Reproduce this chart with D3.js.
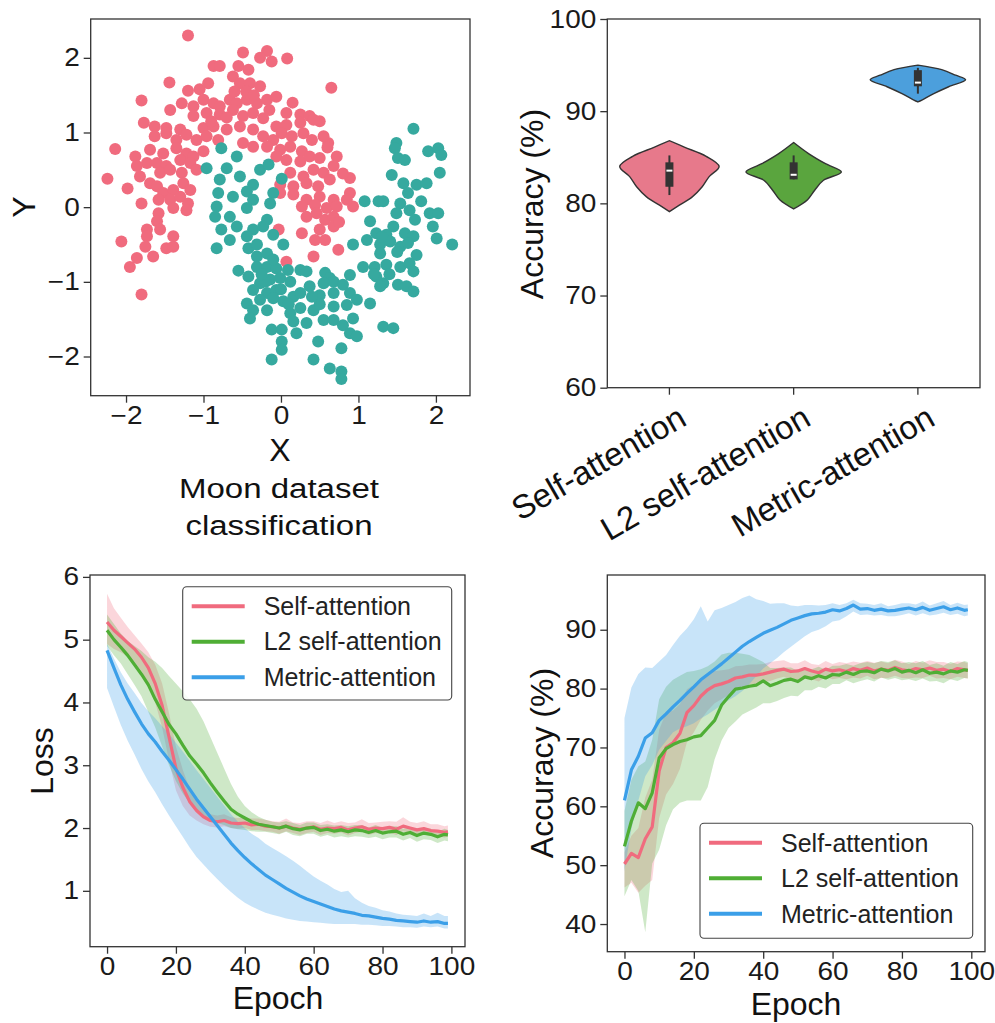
<!DOCTYPE html>
<html>
<head>
<meta charset="utf-8">
<script src="https://cdn.jsdelivr.net/npm/d3@7"></script>
<style>
	body { margin: 0; background: #fff; }
	svg { font-family: "Liberation Sans", Arial, sans-serif; }
</style>
</head>
<body>
<svg id="fig" width="995" height="1023"></svg>
<script>

// ---- moon dataset ----
var moonPink = [
	[-1.20,2.30],[-0.49,2.07],[-0.18,2.09],[-0.27,2.00],[-0.12,1.95],[0.08,1.99],[-0.87,1.89],[-0.79,1.89],[-0.55,1.89],[-0.42,1.84],
	[-1.44,1.67],[-1.20,1.56],[-1.05,1.58],[-0.94,1.66],[-0.62,1.75],[-0.53,1.66],[-0.40,1.66],[-0.27,1.62],[0.65,1.60],[-1.80,1.43],
	[-1.43,1.30],[-1.28,1.39],[-1.13,1.35],[-1.00,1.44],[-0.87,1.39],[-0.79,1.35],[-0.66,1.44],[-0.57,1.39],[-0.44,1.44],[-0.31,1.39],[-0.18,1.44],[-0.06,1.48],
	[-1.13,1.22],[-0.96,1.26],[-0.79,1.24],[-0.62,1.30],[-0.49,1.22],[-0.36,1.26],[-0.23,1.19],[0.07,1.26],[0.25,1.24],[0.37,1.22],[0.50,1.15],
	[-1.77,1.13],[-1.63,1.08],[-1.48,1.06],[-1.30,1.04],[-1.00,1.06],[-0.87,1.08],[-0.70,1.04],[-0.53,1.08],[-0.36,1.04],[-0.06,1.08],[0.07,1.10],[0.25,1.13],[0.42,1.17],
	[-1.63,0.95],[-1.48,0.99],[-1.35,0.90],[-1.22,0.97],[-1.09,0.90],[-0.96,0.95],[-0.81,0.90],[-0.23,0.95],[-0.10,0.90],[0.01,0.99],[0.14,0.95],[0.29,0.99],[0.40,0.90],
	[-2.14,0.78],[-1.69,0.77],[-1.52,0.72],[-1.35,0.79],[-1.22,0.72],[-1.13,0.68],[-0.49,0.86],[-0.36,0.81],[-0.18,0.81],[-0.01,0.77],[0.12,0.81],[0.27,0.75],[0.61,0.86],
	[-1.88,0.68],[-1.73,0.59],[-1.60,0.59],[-1.48,0.55],[-1.30,0.63],[-1.17,0.59],[-0.06,0.68],[0.07,0.63],[0.25,0.61],[0.37,0.68],[0.50,0.66],[0.72,0.68],
	[-1.86,0.55],[-1.82,0.41],[-1.69,0.32],[-1.56,0.46],[-1.43,0.50],[-1.28,0.46],[-1.09,0.50],[0.12,0.46],[0.29,0.41],[0.42,0.50],[0.55,0.46],[0.68,0.55],
	[-2.24,0.38],[-1.60,0.28],[-1.52,0.19],[-1.39,0.23],[-1.26,0.32],[-1.17,0.23],[-0.01,0.30],[0.16,0.28],[0.33,0.32],[0.48,0.28],[0.63,0.37],[0.89,0.39],
	[-1.98,0.25],[-1.58,0.10],[-1.43,0.10],[-1.30,0.14],[-1.20,0.05],[-0.01,0.19],[0.16,0.17],[0.33,0.10],[0.50,0.14],[0.68,0.10],[0.89,0.19],
	[-1.80,0.05],[-1.58,-0.08],[-1.39,-0.01],[-1.22,-0.04],[0.27,0.01],[0.44,0.03],[0.59,-0.01],[0.72,0.01],[0.93,0.01],
	[-1.60,-0.19],[-1.56,-0.30],[-1.73,-0.30],[-1.73,-0.39],[0.33,-0.13],[0.46,-0.08],[0.57,-0.17],[0.68,-0.13],
	[-2.06,-0.46],[-1.39,-0.39],[-1.48,-0.55],[-1.39,-0.53],[0.27,-0.35],[0.50,-0.30],[0.68,-0.26],[-0.03,-0.30],
	[-1.75,-0.53],[-1.65,-0.66],[0.44,-0.44],[0.57,-0.44],[0.74,-0.57],[0.42,-0.66],[0.07,-0.73],[-1.86,-0.68],[-1.95,-0.80],[-1.80,-1.17],
	[-0.45,1.55],[-0.35,1.50],[-0.60,1.55],[-0.15,1.30],[-0.70,1.20],[-0.90,1.15],[0.15,1.40],[0.55,0.95],[0.60,0.80],[0.80,0.45],[0.85,0.10],[0.75,-0.20],[-1.00,0.75]
];
var moonTeal = [
	[1.71,1.05],[1.49,0.86],[1.47,0.79],[1.90,0.75],[2.03,0.79],[2.07,0.70],[-0.77,0.79],[-0.57,0.68],[1.51,0.66],[1.60,0.63],
	[-0.96,0.52],[-0.70,0.52],[-0.53,0.41],[-0.27,0.50],[-0.16,0.57],[1.43,0.43],[2.05,0.46],[-0.79,0.37],[0.01,0.38],[-0.36,0.30],[-0.44,0.21],
	[1.58,0.32],[1.75,0.30],[1.88,0.32],[-0.81,0.19],[-0.62,0.14],[-0.36,0.10],[-0.10,0.19],[1.64,0.19],[1.08,0.08],[1.26,0.08],[1.32,0.08],[1.54,0.05],[1.81,0.08],
	[-0.83,0.01],[-0.44,-0.01],[-0.14,0.05],[1.49,-0.08],[1.66,-0.04],[1.92,-0.08],[2.03,-0.08],[-0.85,-0.13],[-0.66,-0.13],[-0.18,-0.17],
	[1.15,-0.19],[1.45,-0.26],[1.73,-0.17],[1.96,-0.26],[-0.77,-0.30],[-0.57,-0.26],[-0.36,-0.30],[-0.23,-0.26],
	[1.23,-0.35],[1.36,-0.37],[1.60,-0.35],[1.71,-0.39],[2.01,-0.42],[2.21,-0.50],[-0.66,-0.44],[-0.44,-0.39],[-0.10,-0.37],[0.03,-0.50],
	[0.93,-0.50],[1.11,-0.44],[1.28,-0.50],[1.41,-0.46],[1.54,-0.53],[1.64,-0.48],[-0.83,-0.55],[-0.42,-0.55],[-0.31,-0.50],[1.28,-0.62],[1.75,-0.64],
	[-0.31,-0.66],[-0.18,-0.62],[1.06,-0.80],[1.21,-0.80],[1.36,-0.77],[1.54,-0.80],[1.66,-0.75],[-0.31,-0.80],[-0.18,-0.80],[-0.06,-0.82],[-0.55,-0.85],
	[0.09,-0.84],[0.25,-0.84],[0.33,-0.86],[0.57,-0.88],[0.63,-0.95],[0.89,-0.91],[1.23,-0.93],[1.32,-1.02],[1.71,-0.86],
	[-0.42,-0.93],[-0.27,-1.02],[-0.14,-0.97],[-0.01,-0.95],[0.12,-1.00],[0.37,-1.06],[0.55,-1.02],[0.68,-1.00],[0.80,-1.04],
	[1.28,-1.06],[1.51,-1.04],[1.62,-1.06],[1.71,-1.13],[-0.36,-1.11],[-0.18,-1.15],[-0.06,-1.11],[-0.27,-1.24],[-0.10,-1.22],[0.03,-1.26],[0.16,-1.20],
	[0.25,-1.15],[0.50,-1.18],[0.68,-1.15],[0.89,-1.15],[-0.44,-1.29],[-0.36,-1.38],[-0.18,-1.38],[0.25,-1.35],[0.42,-1.38],[0.68,-1.33],[0.85,-1.31],[0.98,-1.24],[1.15,-1.29],
	[-0.40,-1.49],[0.12,-1.42],[0.55,-1.51],[0.68,-1.51],[0.93,-1.49],[0.16,-1.53],[0.33,-1.55],[0.80,-1.58],
	[-0.12,-1.64],[0.01,-1.64],[0.20,-1.69],[0.89,-1.69],[0.98,-1.73],[1.32,-1.60],[1.45,-1.62],[0.01,-1.80],[0.48,-1.80],[0.78,-1.89],[0.01,-1.91],
	[-0.12,-2.04],[0.42,-2.04],[0.63,-2.16],[0.78,-2.20],[0.78,-2.30],
	[-0.20,-1.00],[0.10,-1.30],[0.50,-1.30],[1.20,-0.90],[1.40,-0.90],[-0.10,-0.70],[0.40,-1.20],[1.30,-0.40],[1.50,-0.60],[0.00,-1.10],[-0.25,-0.90]
];
var scatterXTicks = [-2, -1, 0, 1, 2];
var scatterYTicks = [-2, -1, 0, 1, 2];

// ---- final accuracy distributions (violin outline: [accuracy, relative half width]) ----
var methods = ["Self-attention", "L2 self-attention", "Metric-attention"];
var violinSelf = [[79.1,0],[79.8,0.2],[80.7,0.46],[81.8,0.66],[82.9,0.8],[84.0,1.0],[85.1,0.74],[86.1,0.3],[86.8,0]];
var violinL2 = [[79.4,0],[80.4,0.28],[81.4,0.42],[82.5,0.6],[83.4,0.96],[84.3,0.64],[85.4,0.3],[86.6,0]];
var violinMetric = [[91.0,0],[91.2,0.08],[91.9,0.32],[92.65,0.62],[93.4,0.96],[93.9,0.76],[94.5,0.48],[95.0,0]];
var whiskerLow = [80.9, 82.6, 91.9];
var quart1 = [81.8, 82.6, 92.7];
var medians = [83.55, 83.1, 93.1];
var quart3 = [84.45, 84.45, 94.45];
var whiskerHigh = [85.2, 85.2, 94.7];
var violinTicks = [60, 70, 80, 90, 100];

// ---- training curves, every second epoch plus the last one ----
var epochs = [0,2,4,6,8,10,12,14,16,18,20,22,24,26,28,30,32,34,36,38,40,42,44,46,48,50,52,54,56,58,60,62,64,66,68,70,72,74,76,78,80,82,84,86,88,90,92,94,96,98,99];
var epochTicks = [0, 20, 40, 60, 80, 100];

var lossSelf = [5.28,5.15,5.05,4.95,4.85,4.72,4.55,4.30,3.95,3.45,2.95,2.65,2.42,2.28,2.18,2.12,2.10,2.12,2.08,2.07,2.08,2.05,2.06,2.03,2.02,2.00,2.03,2.00,1.98,2.00,2.02,1.98,2.00,1.99,2.01,1.97,2.00,2.02,1.98,2.00,1.99,2.01,1.98,2.03,2.00,1.97,1.99,1.96,1.95,1.93,1.94];
var lossSelfLo = [0.35,0.30,0.25,0.22,0.20,0.22,0.25,0.30,0.35,0.38,0.35,0.30,0.22,0.16,0.12,0.10,0.09,0.09,0.08,0.08,0.08,0.08,0.09,0.08,0.08,0.09,0.08,0.08,0.09,0.08,0.08,0.09,0.08,0.08,0.08,0.09,0.08,0.08,0.09,0.08,0.08,0.08,0.09,0.08,0.08,0.08,0.09,0.08,0.08,0.08,0.08];
var lossSelfHi = [0.45,0.35,0.30,0.25,0.22,0.22,0.25,0.30,0.35,0.38,0.35,0.28,0.20,0.15,0.12,0.10,0.10,0.10,0.09,0.09,0.09,0.10,0.09,0.10,0.09,0.10,0.12,0.09,0.10,0.11,0.09,0.10,0.12,0.09,0.10,0.11,0.09,0.12,0.10,0.09,0.11,0.10,0.12,0.14,0.10,0.11,0.12,0.10,0.11,0.10,0.10];

var lossL2 = [5.15,5.00,4.88,4.75,4.60,4.45,4.28,4.05,3.85,3.65,3.50,3.32,3.15,3.02,2.88,2.72,2.57,2.43,2.30,2.22,2.16,2.10,2.06,2.04,2.02,2.00,2.03,1.99,1.97,2.00,2.01,1.96,1.98,1.95,1.97,1.94,1.97,1.96,1.93,1.96,1.92,1.94,1.95,1.90,1.93,1.88,1.92,1.90,1.86,1.90,1.89];
var lossL2Lo = [0.25,0.25,0.26,0.30,0.32,0.35,0.43,0.45,0.55,0.65,0.75,0.77,0.75,0.74,0.70,0.60,0.49,0.38,0.30,0.24,0.19,0.15,0.12,0.10,0.10,0.10,0.09,0.10,0.10,0.09,0.10,0.10,0.09,0.10,0.10,0.09,0.10,0.10,0.09,0.10,0.10,0.09,0.10,0.10,0.09,0.10,0.10,0.09,0.10,0.10,0.10];
var lossL2Hi = [0.25,0.25,0.22,0.23,0.30,0.37,0.44,0.60,0.70,0.77,0.80,0.86,0.90,0.88,0.82,0.73,0.63,0.52,0.40,0.28,0.19,0.15,0.12,0.09,0.08,0.09,0.08,0.09,0.08,0.09,0.08,0.09,0.08,0.09,0.08,0.09,0.08,0.09,0.08,0.09,0.08,0.09,0.08,0.09,0.08,0.09,0.08,0.09,0.08,0.09,0.08];

var lossMetric = [4.83,4.55,4.28,4.05,3.85,3.66,3.50,3.37,3.22,3.08,2.93,2.78,2.62,2.46,2.32,2.18,2.04,1.90,1.76,1.64,1.53,1.43,1.34,1.25,1.18,1.11,1.04,0.98,0.92,0.87,0.83,0.79,0.75,0.71,0.68,0.66,0.64,0.61,0.60,0.58,0.56,0.55,0.53,0.52,0.51,0.50,0.52,0.50,0.51,0.48,0.48];
var lossMetricLo = [0.60,0.62,0.64,0.66,0.68,0.72,0.76,0.80,0.84,0.88,0.90,0.92,0.93,0.92,0.90,0.88,0.85,0.82,0.78,0.75,0.72,0.68,0.64,0.60,0.56,0.52,0.48,0.44,0.40,0.36,0.33,0.30,0.27,0.24,0.21,0.19,0.17,0.15,0.14,0.13,0.12,0.11,0.10,0.10,0.09,0.09,0.09,0.08,0.08,0.08,0.08];
var lossMetricHi = [0.10,0.15,0.20,0.25,0.30,0.33,0.36,0.38,0.40,0.42,0.43,0.44,0.45,0.46,0.46,0.46,0.46,0.46,0.46,0.46,0.47,0.48,0.50,0.50,0.50,0.51,0.51,0.50,0.48,0.44,0.40,0.37,0.35,0.32,0.30,0.34,0.24,0.20,0.16,0.15,0.13,0.12,0.11,0.10,0.10,0.10,0.12,0.10,0.14,0.12,0.12];

var accSelf = [50.2,52.0,51.3,54.5,56.5,66.0,70.0,70.8,72.4,75.9,77.1,78.7,79.8,80.5,80.8,81.2,81.8,82.0,82.3,82.3,82.5,82.8,83.1,83.3,82.9,83.0,83.4,83.0,82.7,83.3,83.0,83.2,82.9,83.4,83.1,83.5,83.0,83.3,83.1,83.6,83.2,83.0,83.4,83.2,83.5,83.1,83.3,82.9,83.4,83.2,83.1];
var accSelfLo = [4.0,5.0,6.0,8.0,9.0,8.0,8.0,7.0,6.0,5.0,4.5,4.0,3.5,3.0,2.6,2.3,2.0,1.8,1.6,1.5,1.4,1.5,1.4,1.3,1.4,1.5,1.3,1.4,1.5,1.3,1.4,1.4,1.3,1.5,1.4,1.3,1.4,1.5,1.3,1.4,1.4,1.3,1.5,1.4,1.3,1.4,1.5,1.3,1.4,1.4,1.4];
var accSelfHi = [2.0,3.0,5.0,7.0,8.0,7.0,6.0,5.5,5.0,4.0,3.5,3.0,2.8,2.5,2.3,2.1,2.0,1.9,1.8,1.8,1.7,1.7,1.6,1.5,1.4,1.3,1.4,1.2,1.3,1.4,1.2,1.3,1.4,1.2,1.3,1.2,1.4,1.3,1.2,1.3,1.4,1.2,1.3,1.2,1.3,1.4,1.2,1.3,1.2,1.3,1.2];

var accL2 = [53.2,57.5,60.6,59.6,62.3,68.2,69.8,70.5,71.0,71.3,71.8,72.0,73.3,74.6,77.2,78.6,79.9,80.1,80.4,80.6,81.3,80.5,80.9,81.4,81.6,81.2,82.0,81.7,82.2,81.8,82.4,82.3,82.8,82.4,82.9,83.0,82.7,83.3,83.0,83.4,82.8,83.1,82.7,83.2,82.6,82.8,82.5,83.0,82.8,83.2,83.1];
var accL2Lo = [8.5,10.0,15.0,21.0,12.0,15.6,13.0,11.0,10.4,10.3,10.8,11.0,10.0,6.6,6.0,5.3,5.5,4.5,4.2,3.8,3.8,3.0,3.0,3.0,2.8,2.5,2.3,2.0,1.9,1.8,1.6,1.5,1.4,1.5,1.6,1.4,1.5,1.4,1.5,1.6,1.4,1.5,1.4,1.5,1.4,1.5,1.6,1.4,1.5,1.4,1.4];
var accL2Hi = [6.0,7.0,6.2,8.0,9.0,10.0,10.5,11.0,11.2,11.5,11.2,11.3,10.5,10.0,8.6,7.5,6.2,5.8,5.3,4.5,3.2,3.0,2.6,2.2,2.0,1.8,1.5,1.6,1.5,1.4,1.5,1.6,1.4,1.5,1.4,1.5,1.6,1.4,1.5,1.4,1.5,1.4,1.6,1.5,1.4,1.5,1.4,1.5,1.4,1.5,1.4];

var accMetric = [61.0,66.2,68.5,71.6,72.5,74.6,75.7,76.9,78.0,79.2,80.3,81.5,82.4,83.3,84.2,85.2,86.2,87.2,88.0,88.7,89.4,89.9,90.4,91.0,91.6,92.0,92.4,92.7,92.8,93.0,93.4,93.2,93.6,94.2,93.5,93.6,93.3,93.5,93.2,93.3,93.5,93.7,93.4,93.8,93.3,93.6,93.9,93.4,93.7,93.3,93.4];
var accMetricLo = [12.0,10.0,7.5,6.5,5.5,5.0,4.6,4.3,4.8,5.6,6.2,6.6,6.8,6.9,7.0,7.2,7.5,7.6,7.2,6.6,6.0,5.6,5.2,4.8,4.5,4.0,3.5,3.1,2.8,2.4,2.0,1.6,1.3,1.1,1.0,1.0,0.9,1.0,0.9,1.0,1.0,0.9,1.0,1.0,0.9,1.0,1.0,0.9,1.0,1.0,1.0];
var accMetricHi = [14.0,14.0,14.0,12.0,11.0,10.0,10.0,10.5,11.0,11.0,11.5,12.5,9.0,10.0,9.5,9.0,8.5,8.2,7.8,6.5,5.5,4.5,4.1,3.5,2.5,2.0,1.8,1.5,1.3,1.2,1.1,1.0,0.9,0.9,1.0,0.8,0.9,1.0,0.8,0.9,1.0,0.8,0.9,1.0,0.8,0.9,1.0,0.8,0.9,0.9,0.9];

var accTicks = [40, 50, 60, 70, 80, 90];
var lossTicks = [1, 2, 3, 4, 5, 6];

// ---- look ----
var ink = "#333333";
var pink = "#f06b7e";
var teal = "#36a99f";
var green = "#4fae35";
var blue = "#3b9fe8";
var violinFill = ["#e7798b", "#5aa53e", "#4c9fdc"];

var svg = d3.select("#fig");

/** stretches text sideways, the figure's glyphs are wider than Arial */
function widen(sel, k, origin) {
	sel
	    .style("transform-box", "fill-box")
	    .style("transform-origin", origin)
	    .style("transform", "scaleX(" + k + ")");
}

function drawAxes(x, y, xTicks, yTicks, xFormat) {
	var left = x.range()[0], right = x.range()[1];
	var bottom = y.range()[0], top = y.range()[1];
	var g = svg.append("g");

	var gx = g.append("g")
	    .attr("transform", "translate(0," + bottom + ")")
	    .call(d3.axisBottom(x).tickValues(xTicks).tickSize(7).tickPadding(4).tickFormat(xFormat || d3.format("")));
	var gy = g.append("g")
	    .attr("transform", "translate(" + left + ",0)")
	    .call(d3.axisLeft(y).tickValues(yTicks).tickSize(7).tickPadding(4).tickFormat(d3.format("")));

	g.selectAll(".domain").remove();
	g.selectAll(".tick line").attr("stroke", ink).attr("stroke-width", 1.3);
	g.selectAll(".tick text")
	    .attr("fill", "#1a1a1a")
	    .style("font-family", "'Liberation Sans', Arial, sans-serif")
	    .style("font-size", "25px");
	widen(gx.selectAll(".tick text"), 1.12, "center");
	widen(gy.selectAll(".tick text"), 1.12, "right center");

	g.append("rect")
	    .attr("x", left)
	    .attr("y", top)
	    .attr("width", right - left)
	    .attr("height", bottom - top)
	    .attr("fill", "none")
	    .attr("stroke", ink)
	    .attr("stroke-width", 1.3);
	return g;
}

function label(text, cx, cy, size, rotate) {
	return svg.append("text")
	    .attr("transform", "translate(" + cx + "," + cy + ")" + (rotate ? " rotate(-90)" : ""))
	    .attr("text-anchor", "middle")
	    .attr("dy", "0.35em")
	    .attr("fill", "#111")
	    .style("font-size", size + "px")
	    .text(text);
}

// ---- panel a: moon scatter ----
(function () {
	var x = d3.scaleLinear().domain([-2.456, 2.44]).range([90.7, 470]);
	var y = d3.scaleLinear().domain([-2.525, 2.52]).range([395.7, 19]);
	var fmt = function (d) { return d < 0 ? "\u2212" + Math.abs(d) : "" + d; };

	var dots = svg.append("g");
	dots.selectAll("circle.pink")
	    .data(moonPink)
	  .enter().append("circle").classed("pink", true)
	    .attr("cx", function (d) { return x(d[0]); })
	    .attr("cy", function (d) { return y(d[1]); })
	    .attr("r", 6)
	    .attr("fill", pink);
	dots.selectAll("circle.teal")
	    .data(moonTeal)
	  .enter().append("circle").classed("teal", true)
	    .attr("cx", function (d) { return x(d[0]); })
	    .attr("cy", function (d) { return y(d[1]); })
	    .attr("r", 6)
	    .attr("fill", teal);

	drawAxes(x, y, scatterXTicks, scatterYTicks, fmt);

	label("Y", 24, 207, 32, true);
	label("X", 280, 450, 32, false);
	var title = svg.append("g");
	widen(title.append("text").attr("x", 279).attr("y", 498).attr("text-anchor", "middle")
	    .attr("fill", "#111").style("font-size", "28px").text("Moon dataset"), 1.18, "center");
	widen(title.append("text").attr("x", 279).attr("y", 535).attr("text-anchor", "middle")
	    .attr("fill", "#111").style("font-size", "28px").text("classification"), 1.18, "center");
})();

// ---- panel b: violins ----
(function () {
	var x = d3.scaleBand().domain(methods).range([607.3, 980]);
	var y = d3.scaleLinear().domain([60, 100]).range([387.7, 19]);
	var half = x.bandwidth() * 0.4;
	var outlines = [violinSelf, violinL2, violinMetric];

	var g = svg.append("g");
	methods.forEach(function (m, i) {
		var cx = x(m) + x.bandwidth() / 2;
		var area = d3.area()
		    .curve(d3.curveCatmullRom)
		    .y(function (d) { return y(d[0]); })
		    .x0(function (d) { return cx - d[1] * half; })
		    .x1(function (d) { return cx + d[1] * half; });
		g.append("path")
		    .datum(outlines[i])
		    .attr("d", area)
		    .attr("fill", violinFill[i])
		    .attr("stroke", ink)
		    .attr("stroke-width", 1.4);
		g.append("line")
		    .attr("x1", cx).attr("x2", cx)
		    .attr("y1", y(whiskerLow[i])).attr("y2", y(whiskerHigh[i]))
		    .attr("stroke", ink)
		    .attr("stroke-width", 2);
		g.append("rect")
		    .attr("x", cx - 4).attr("width", 8)
		    .attr("y", y(quart3[i])).attr("height", y(quart1[i]) - y(quart3[i]))
		    .attr("fill", ink);
		g.append("line")
		    .attr("x1", cx - 3).attr("x2", cx + 3)
		    .attr("y1", y(medians[i])).attr("y2", y(medians[i]))
		    .attr("stroke", "#fff")
		    .attr("stroke-width", 2);
	});

	var axes = drawAxes(x, y, methods, violinTicks);
	axes.select("g").selectAll(".tick text").remove();

	methods.forEach(function (m) {
		var cx = x(m) + x.bandwidth() / 2;
		svg.append("text")
		    .attr("transform", "translate(" + (cx + 19) + ",424) rotate(-30)")
		    .attr("text-anchor", "end")
		    .attr("fill", "#111")
		    .style("font-size", "33px")
		    .text(m);
	});

	label("Accuracy (%)", 532, 204, 32, true);
})();

// ---- shared bits for the curve panels ----
var curveNames = ["Self-attention", "L2 self-attention", "Metric-attention"];
var curveColors = [pink, green, blue];

function drawCurves(x, y, means, los, his) {
	var g = svg.append("g");
	var band = d3.area()
	    .x(function (d) { return x(d.e); })
	    .y0(function (d) { return y(d.m - d.lo); })
	    .y1(function (d) { return y(d.m + d.hi); });
	var line = d3.line()
	    .x(function (d) { return x(d.e); })
	    .y(function (d) { return y(d.m); });

	var rows = means.map(function (series, i) {
		return epochs.map(function (e, j) {
			return { e: e, m: series[j], lo: los[i][j], hi: his[i][j] };
		});
	});
	rows.forEach(function (r, i) {
		g.append("path").datum(r)
		    .attr("d", band)
		    .attr("fill", curveColors[i])
		    .attr("fill-opacity", 0.28);
	});
	rows.forEach(function (r, i) {
		g.append("path").datum(r)
		    .attr("d", line)
		    .attr("fill", "none")
		    .attr("stroke", curveColors[i])
		    .attr("stroke-width", 3.2)
		    .attr("stroke-linejoin", "round");
	});
}

function drawLegend(x0, y0, w, h) {
	var g = svg.append("g");
	g.append("rect")
	    .attr("x", x0).attr("y", y0)
	    .attr("width", w).attr("height", h)
	    .attr("rx", 4)
	    .attr("fill", "#fff")
	    .attr("fill-opacity", 0.85)
	    .attr("stroke", "#444")
	    .attr("stroke-width", 1.1);
	curveNames.forEach(function (name, i) {
		var cy = y0 + 19.5 + i * 35.5;
		g.append("line")
		    .attr("x1", x0 + 9).attr("x2", x0 + 62)
		    .attr("y1", cy).attr("y2", cy)
		    .attr("stroke", curveColors[i])
		    .attr("stroke-width", 4);
		g.append("text")
		    .attr("x", x0 + 81).attr("y", cy)
		    .attr("dy", "0.35em")
		    .attr("fill", "#222")
		    .style("font-size", "25px")
		    .text(name);
	});
}

// ---- panel c: loss ----
(function () {
	var x = d3.scaleLinear().domain([-4.95, 103.95]).range([90, 465]);
	var y = d3.scaleLinear().domain([0.11, 6.03]).range([946.7, 575]);
	drawCurves(x, y, [lossSelf, lossL2, lossMetric], [lossSelfLo, lossL2Lo, lossMetricLo], [lossSelfHi, lossL2Hi, lossMetricHi]);
	drawAxes(x, y, epochTicks, lossTicks);
	drawLegend(182.7, 586.7, 269, 113.3);
	label("Loss", 42, 761, 32, true);
	label("Epoch", 278, 998, 32, false);
})();

// ---- panel d: accuracy ----
(function () {
	var x = d3.scaleLinear().domain([-4.95, 103.95]).range([607.3, 985]);
	var y = d3.scaleLinear().domain([35.3, 99.3]).range([951.7, 575]);
	drawCurves(x, y, [accSelf, accL2, accMetric], [accSelfLo, accL2Lo, accMetricLo], [accSelfHi, accL2Hi, accMetricHi]);
	drawAxes(x, y, epochTicks, accTicks);
	drawLegend(700, 823.3, 272.7, 115);
	label("Accuracy (%)", 542, 763, 32, true);
	label("Epoch", 796, 1004, 32, false);
})();

</script>
</body>
</html>
